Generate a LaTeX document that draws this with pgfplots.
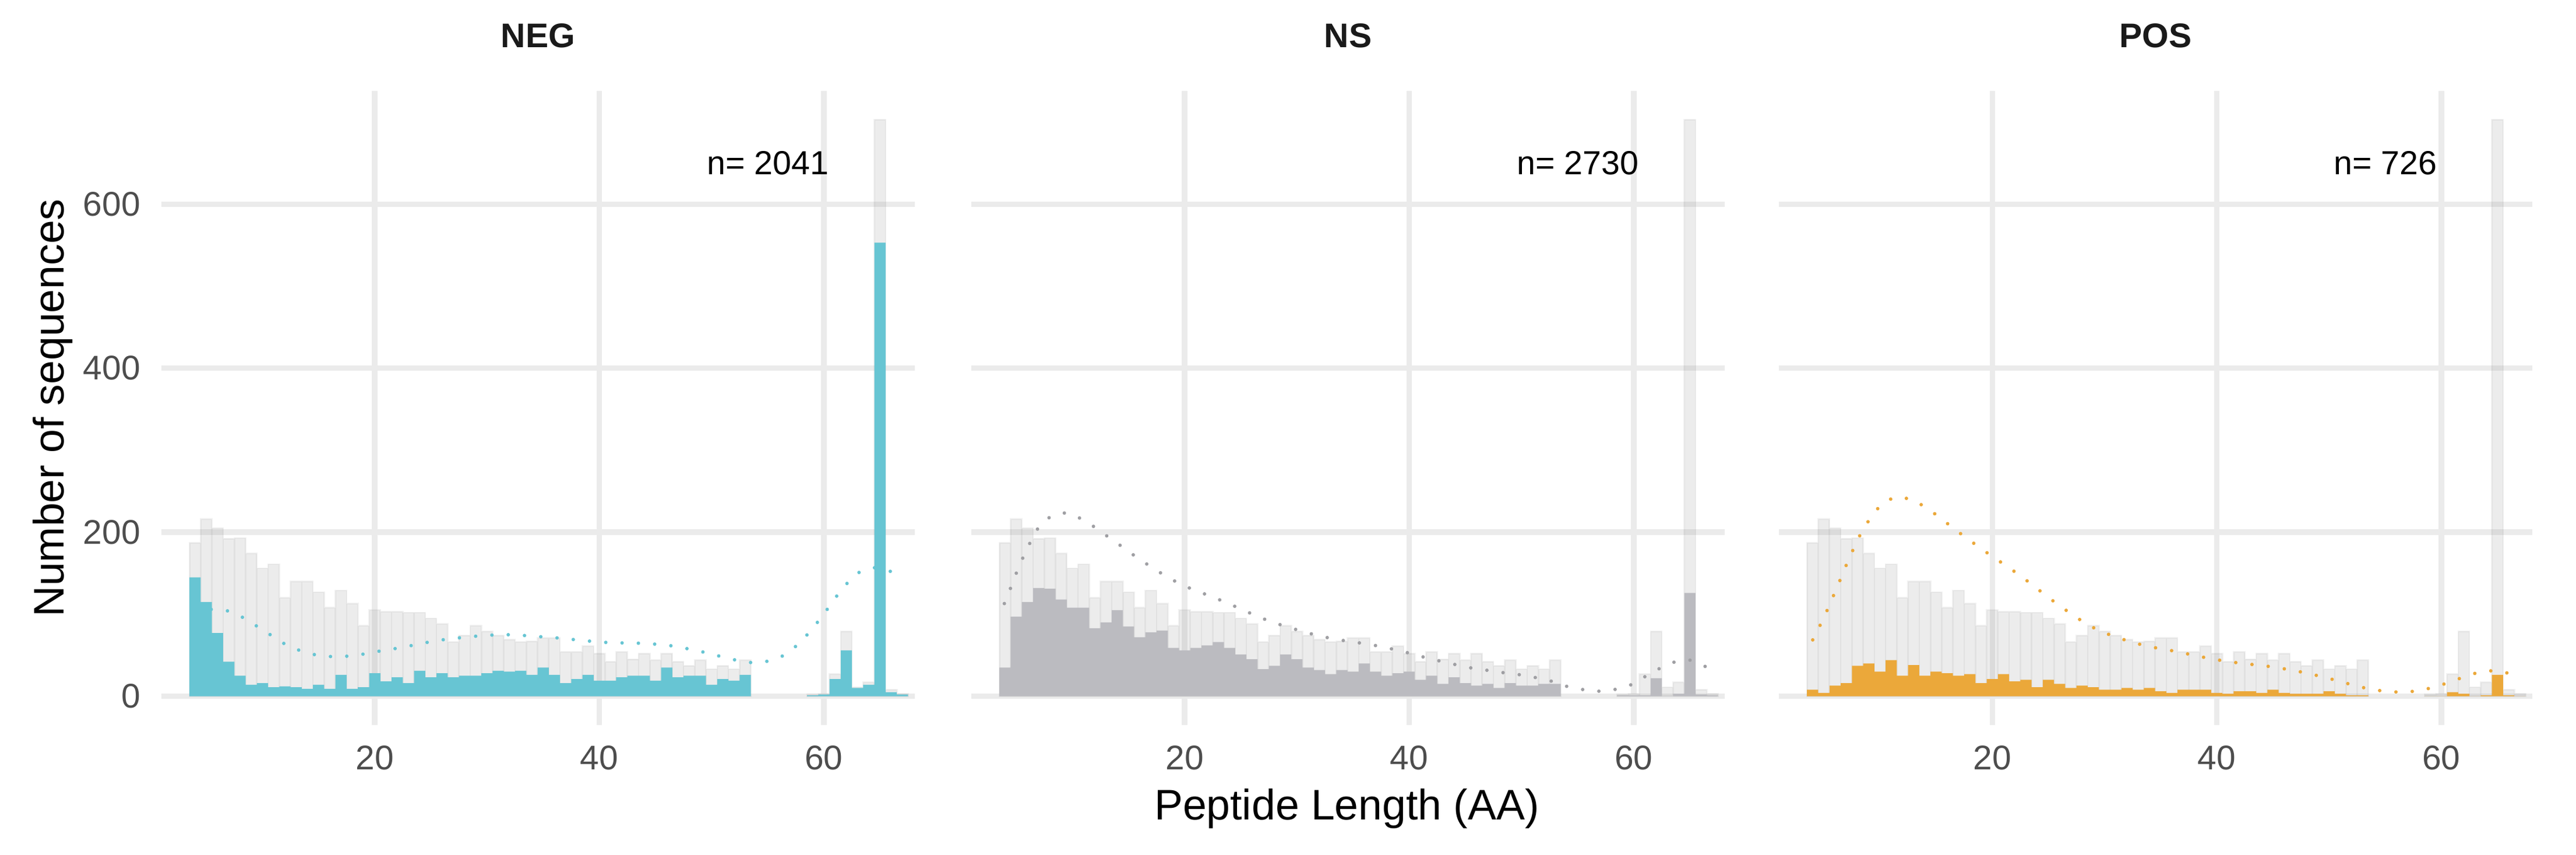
\documentclass[border=0pt]{standalone}
\usepackage{fontspec}
\setmainfont{Liberation Sans}
\usepackage{pgfplots}
\pgfplotsset{compat=1.18}
\usepackage{pgfplotstable}

\definecolor{negc}{RGB}{103,197,211}
\definecolor{nsc}{RGB}{187,187,192}
\definecolor{posc}{RGB}{235,168,58}
\definecolor{gridc}{RGB}{235,235,235}
\definecolor{tickc}{RGB}{77,77,77}
\definecolor{stripc}{RGB}{26,26,26}

\pgfplotstableread{
x gray neg ns pos
4 187 145 35 8
5 216 115 97 4
6 205 77 115 13
7 192 42 132 16
8 193 25 131 37
9 174 14 118 40
10 156 16 108 30
11 161 11 108 44
12 120 12 83 25
13 140 11 90 38
14 140 9 105 25
15 127 14 85 30
16 108 9 72 28
17 129 26 78 25
18 113 9 80 27
19 86 11 59 16
20 105 28 56 21
21 103 18 59 27
22 103 23 62 18
23 102 16 66 20
24 102 31 59 11
25 95 23 51 20
26 88 28 45 15
27 66 23 33 10
28 74 25 37 13
29 86 25 51 11
30 79 28 45 8
31 74 31 35 8
32 69 30 32 10
33 66 31 27 8
34 67 26 32 10
35 71 35 30 6
36 71 26 40 4
37 54 16 30 8
38 54 21 25 8
39 61 26 28 8
40 52 19 30 4
41 42 19 20 3
42 54 23 25 6
43 45 25 15 6
44 52 25 23 4
45 44 19 16 8
46 52 35 13 4
47 42 23 15 3
48 37 25 10 3
49 44 25 16 3
50 33 14 13 6
51 37 21 13 3
52 33 19 15 1
53 44 26 15 1
59 2 1 1 0
60 3 2 1 0
61 27 21 1 5
62 79 56 22 3
63 11 10 0 0
64 17 14 3 1
65 703 553 126 26
66 8 5 2 1
67 3 2 1 0
}\bars

\pgfplotstableread{
x y
4 103
4.8 105
5.52 106
6.94 104
8.26 96
9.55 85
10.81 74
12.06 63
13.45 55
14.84 50
16.37 48
17.82 49
19.31 52
20.80 56
22.26 59
23.71 63
25.17 67
26.65 70
28.14 72
29.60 74
31.12 75
32.60 75
34.10 73
35.59 72
37.04 70
38.53 68
40.02 66
41.50 65
42.99 65
44.48 64
45.97 62.5
47.46 59
48.92 55
50.37 50
51.83 45
53.31 41
54.80 42
56.2 48
57.43 60
58.45 74
59.42 90
60.30 106
61.19 123
62.15 139
63.22 152
64.6 157
66.0 152
67 147
}\dneg

\pgfplotstableread{
x y
3.94 113
4.50 132
5.03 151
5.63 170
6.26 188
6.98 206
8.11 220
9.50 224
10.86 216
12.12 205
13.31 193
14.57 181
15.76 169
16.98 158
18.25 147
19.57 137
20.92 129
22.32 122
23.74 114
25.07 106
26.45 97.5
27.85 90
29.27 84
30.73 78
32.15 73
33.61 69
35.07 66
36.56 63
38.01 59
39.47 54.5
40.92 49
42.38 44
43.81 39.5
45.26 35
46.75 32
48.21 29
49.70 26.5
51.16 23
52.62 18.5
54.04 12
55.51 8
56.98 6
58.45 8.5
59.89 14.5
61.19 25.5
62.52 35.5
63.85 43
65.0 44
66.68 34.5
67 32
}\dns

\pgfplotstableread{
x y
4.01 68.7
4.67 86.6
5.30 105
5.90 124
6.49 143
7.06 162
7.65 180
8.31 199
9.08 216
10.01 232.5
11.23 242.7
12.72 240.8
14.01 231
15.23 219
16.43 206
17.59 194
18.81 182
20.04 170
21.26 159
22.49 147
23.68 134.7
24.84 122
26.03 110
27.29 98
28.51 87
29.84 78
31.26 71
32.65 65
34.14 60
35.60 56.6
37.06 52.6
38.51 48.3
39.97 44.5
41.46 41.4
42.95 39
44.44 36.7
45.93 33.6
47.35 30
48.81 25.6
50.31 20.5
51.76 15
53.19 10
54.67 6.5
56.14 5
57.61 6
59.08 10
60.51 16
61.90 23
63.35 29.5
64.84 31.5
66.30 27
67 24
}\dpos

\pgfplotsset{
  panel/.style={
    scale only axis, width=193.95pt, height=163.2pt, anchor=south west,
    xmin=1.0, xmax=68.1, ymin=-35.15, ymax=738.15,
    axis line style={draw=none}, major tick length=0pt, tick style={draw=none},
    xtick={20,40,60}, ytick={0,200,400,600},
    xmajorgrids, ymajorgrids,
    major grid style={line width=1.4pt, gridc},
    /pgf/number format/assume math mode=true,
    ticklabel style={font=\fontsize{8.8}{10}\selectfont, text=tickc},
    xticklabel style={anchor=north, inner sep=0pt, yshift=-5.1pt},
    yticklabel style={anchor=east, inner sep=0pt, xshift=-5.25pt},
    title style={at={(0.5,1)}, anchor=base, yshift=5.1pt, inner sep=0pt,
      font=\bfseries\fontsize{8.8}{10}\selectfont, text=stripc},
  },
  allbar/.style={ybar, bar width=1, bar shift=0pt,
    fill=gray, fill opacity=0.15, draw=gray, draw opacity=0.10, line width=0.4pt},
  colbar/.style={ybar, bar width=1, bar shift=0pt, fill=#1, draw=none},
  dens/.style={no marks, #1, line width=0.9pt, line cap=round,
    dash pattern=on 0pt off 4.2pt},
}

\begin{document}
\begin{tikzpicture}
\useasboundingbox (0,0) rectangle (663.15pt,219.9pt);

\begin{axis}[panel, at={(41.55pt,33.3pt)}, title={NEG}]
\addplot[allbar] table[x=x,y=gray]{\bars};
\addplot[colbar=negc] table[x=x,y=neg]{\bars};
\addplot[dens=negc] table[x=x,y=y]{\dneg};
\node[font=\fontsize{8.6}{10}\selectfont, anchor=center, inner sep=0pt] at (axis cs:55,650) {n= 2041};
\end{axis}

\begin{axis}[panel, at={(250.05pt,33.3pt)}, title={NS}, yticklabels={}]
\addplot[allbar] table[x=x,y=gray]{\bars};
\addplot[colbar=nsc] table[x=x,y=ns]{\bars};
\addplot[dens=nsc!85!black] table[x=x,y=y]{\dns};
\node[font=\fontsize{8.6}{10}\selectfont, anchor=center, inner sep=0pt] at (axis cs:55,650) {n= 2730};
\end{axis}

\begin{axis}[panel, at={(457.95pt,33.3pt)}, title={POS}, yticklabels={}]
\addplot[allbar] table[x=x,y=gray]{\bars};
\addplot[colbar=posc] table[x=x,y=pos]{\bars};
\addplot[dens=posc] table[x=x,y=y]{\dpos};
\node[font=\fontsize{8.6}{10}\selectfont, anchor=center, inner sep=0pt] at (axis cs:55,650) {n= 726};
\end{axis}

\node[rotate=90, anchor=base, font=\fontsize{11}{13}\selectfont] at (16.35pt,114.9pt) {Number of sequences};
\node[anchor=base, font=\fontsize{11}{13}\selectfont] at (346.7pt,9.0pt) {Peptide Length (AA)};
\end{tikzpicture}
\end{document}
